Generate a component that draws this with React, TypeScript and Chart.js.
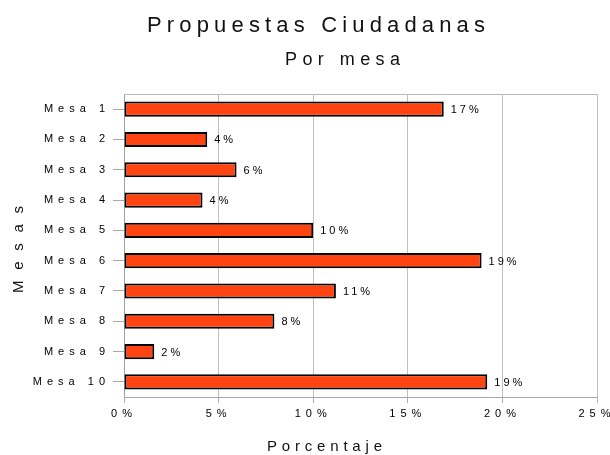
import React, { useEffect, useRef } from "react";
import { Chart, registerables } from "chart.js";

Chart.register(...registerables);

const titleText = "Propuestas Ciudadanas";
const subtitleText = "Por mesa";
const xTitle = "Porcentaje";
const yTitle = "Mesas";
const categories = ["Mesa 1", "Mesa 2", "Mesa 3", "Mesa 4", "Mesa 5", "Mesa 6", "Mesa 7", "Mesa 8", "Mesa 9", "Mesa 10"];
const values = [16.9, 4.4, 5.95, 4.15, 10.0, 18.9, 11.2, 7.95, 1.6, 19.2];
const valueLabels = ["17%", "4%", "6%", "4%", "10%", "19%", "11%", "8%", "2%", "19%"];
const xMax = 25;
const xStep = 5;

const FONT = '"Liberation Sans Narrow", "Liberation Sans", Arial, sans-serif';

function drawSpaced(ctx: any, text: string, left: number, width: number, y: number, font: string) {
  ctx.font = font;
  ctx.letterSpacing = "0px";
  const w = ctx.measureText(text).width;
  const sp = (width - w) / (text.length - 1);
  ctx.letterSpacing = sp + "px";
  ctx.textAlign = "left";
  ctx.textBaseline = "alphabetic";
  ctx.fillText(text, left, y);
  ctx.letterSpacing = "0px";
}

const decorPlugin = {
  id: "decor",
  beforeLayout(chart: any) {
    chart.ctx.letterSpacing = "5px";
  },
  beforeDraw(chart: any) {
    chart.ctx.letterSpacing = "5px";
  },
  beforeDatasetsDraw(chart: any) {
    const { ctx, chartArea } = chart;
    ctx.save();
    ctx.strokeStyle = "#b8b8b8";
    ctx.lineWidth = 1;
    ctx.beginPath();
    ctx.moveTo(chartArea.left, chartArea.top + 0.5);
    ctx.lineTo(chartArea.right, chartArea.top + 0.5);
    ctx.stroke();
    ctx.restore();
  },
  afterDatasetsDraw(chart: any) {
    const { ctx } = chart;
    const meta = chart.getDatasetMeta(0);
    ctx.save();
    ctx.font = "11px " + FONT;
    ctx.fillStyle = "#000";
    ctx.textAlign = "left";
    ctx.textBaseline = "middle";
    ctx.letterSpacing = "3px";
    meta.data.forEach((bar: any, i: number) => {
      ctx.fillText(valueLabels[i], bar.x + 7, bar.y + 1);
    });
    ctx.restore();
  },
  afterDraw(chart: any) {
    const { ctx } = chart;
    ctx.save();
    ctx.fillStyle = "#111";
    drawSpaced(ctx, titleText, 147, 338, 32, "22px " + FONT);
    drawSpaced(ctx, subtitleText, 285, 115, 65, "18px " + FONT);
    drawSpaced(ctx, xTitle, 267, 115, 451, "15px " + FONT);
    ctx.translate(23, 293);
    ctx.rotate(-Math.PI / 2);
    drawSpaced(ctx, yTitle, 0, 87, 0, "15px " + FONT);
    ctx.restore();
  },
};

export default function App() {
  const ref = useRef<HTMLCanvasElement>(null);
  useEffect(() => {
    document.body.style.margin = "0";
    const chart = new Chart(ref.current as HTMLCanvasElement, {
      type: "bar",
      data: {
        labels: categories,
        datasets: [
          {
            data: values,
            backgroundColor: "#ff4412",
            borderColor: "#000",
            borderWidth: 2,
            borderSkipped: false,
            barPercentage: 0.5,
            categoryPercentage: 1,
          },
        ],
      },
      options: {
        indexAxis: "y",
        responsive: false,
        animation: false,
        devicePixelRatio: 1,
        layout: { padding: { top: 94, right: 13, left: 0, bottom: 0 } },
        plugins: {
          legend: { display: false },
          title: { display: false },
          tooltip: { enabled: false },
        },
        scales: {
          x: {
            min: 0,
            max: xMax,
            ticks: {
              stepSize: xStep,
              callback: (v: any) => v + "%",
              font: { size: 11, family: FONT },
              color: "#000",
              padding: 4,
              maxRotation: 0,
            },
            grid: { color: "#c0c0c0", lineWidth: 1, tickLength: 6, tickColor: "#b0b0b0" },
            border: { color: "#a8a8a8", width: 1 },
            afterFit: (s: any) => {
              s.height = 58;
              s.paddingRight = 0;
              s.paddingLeft = 0;
            },
          },
          y: {
            ticks: {
              font: { size: 11, family: FONT },
              color: "#000",
              padding: 3,
            },
            grid: { offset: false, drawOnChartArea: false, tickLength: 11, color: "#a8a8a8" },
            border: { color: "#a0a0a0", width: 1 },
            afterFit: (s: any) => {
              s.width = 124;
            },
          },
        },
      },
      plugins: [decorPlugin],
    } as any);
    return () => chart.destroy();
  }, []);
  return (
    <div style={{ width: 610, height: 455 }}>
      <canvas ref={ref} width={610} height={455} style={{ display: "block" }} />
    </div>
  );
}
